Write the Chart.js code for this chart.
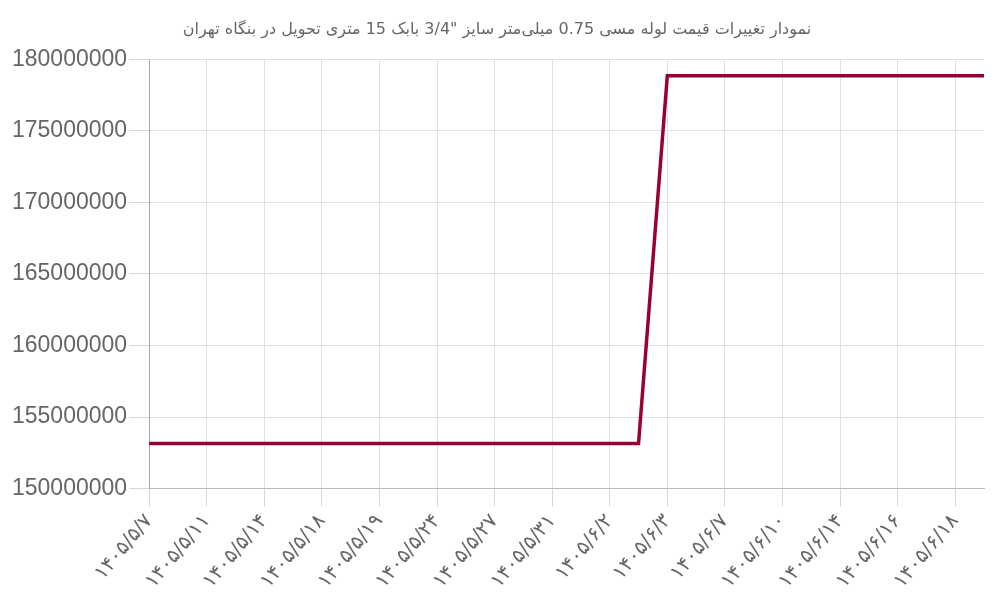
<!DOCTYPE html>
<html>
<head>
<meta charset="utf-8">
<script src="https://cdn.jsdelivr.net/npm/chart.js@4"></script>
<style>
  html, body { margin: 0; padding: 0; background: #fff; }
  #wrap { width: 1000px; height: 600px; }
</style>
</head>
<body>
<div id="wrap"><canvas id="chart"></canvas></div>
<script>
// تاریخ‌ها (برچسب‌های محور افقی)
const dates = [
    '۱۴۰۵/۵/۷', '۱۴۰۵/۵/۱۰', '۱۴۰۵/۵/۱۱', '۱۴۰۵/۵/۱۲', '۱۴۰۵/۵/۱۴',
    '۱۴۰۵/۵/۱۷', '۱۴۰۵/۵/۱۸', '۱۴۰۵/۵/۱۸', '۱۴۰۵/۵/۱۹', '۱۴۰۵/۵/۲۱',
    '۱۴۰۵/۵/۲۴', '۱۴۰۵/۵/۲۵', '۱۴۰۵/۵/۲۷', '۱۴۰۵/۵/۲۸', '۱۴۰۵/۵/۳۱',
    '۱۴۰۵/۶/۱', '۱۴۰۵/۶/۲', '۱۴۰۵/۶/۲', '۱۴۰۵/۶/۳', '۱۴۰۵/۶/۴',
    '۱۴۰۵/۶/۷', '۱۴۰۵/۶/۸', '۱۴۰۵/۶/۱۰', '۱۴۰۵/۶/۱۱', '۱۴۰۵/۶/۱۴',
    '۱۴۰۵/۶/۱۵', '۱۴۰۵/۶/۱۶', '۱۴۰۵/۶/۱۷', '۱۴۰۵/۶/۱۸', '۱۴۰۵/۶/۲۱'
];

// قیمت‌ها (ریال)
const prices = [
    153150000, 153150000, 153150000, 153150000, 153150000,
    153150000, 153150000, 153150000, 153150000, 153150000,
    153150000, 153150000, 153150000, 153150000, 153150000,
    153150000, 153150000, 153150000, 178850000, 178850000,
    178850000, 178850000, 178850000, 178850000, 178850000,
    178850000, 178850000, 178850000, 178850000, 178850000
];

const yMin = 150000000;
const yMax = 180000000;
const yStep = 5000000;

const titulo = 'نمودار تغییرات قیمت لوله مسی 0.75 میلی‌متر سایز "3/4 بابک 15 متری تحویل در بنگاه تهران';

const ctx = document.getElementById('chart').getContext('2d');
new Chart(ctx, {
    type: 'line',
    data: {
        labels: dates,
        datasets: [{
            label: 'قیمت',
            data: prices,
            borderColor: '#990033',
            backgroundColor: '#990033',
            borderWidth: 3.5,
            pointRadius: 0,
            tension: 0,
            fill: false
        }]
    },
    options: {
        responsive: true,
        maintainAspectRatio: false,
        animation: false,
        layout: { padding: { left: 10, right: 16, top: 2, bottom: 4 } },
        plugins: {
            legend: { display: false },
            tooltip: { enabled: false },
            title: {
                display: true,
                text: titulo,
                color: '#666',
                font: { family: 'DejaVu Sans, Liberation Sans, sans-serif', size: 16, weight: 'normal' },
                padding: { top: 18, bottom: 20 }
            }
        },
        scales: {
            x: {
                grid: { color: '#e0e0e0', tickLength: 18, tickColor: '#d8d8d8' },
                border: { color: '#bbb' },
                ticks: {
                    autoSkip: false,
                    maxRotation: 50,
                    minRotation: 50,
                    color: '#666',
                    font: { family: 'DejaVu Sans, sans-serif', size: 20 },
                    callback: function (value, index) {
                        return index % 2 === 0 ? this.getLabelForValue(value) : null;
                    }
                }
            },
            y: {
                min: yMin,
                max: yMax,
                grid: { color: '#e0e0e0', tickLength: 20, tickColor: '#d8d8d8' },
                border: { color: '#aaa' },
                ticks: {
                    stepSize: yStep,
                    color: '#666',
                    padding: 2,
                    font: { family: 'Liberation Sans, Arial, sans-serif', size: 23 },
                    callback: value => String(value)
                }
            }
        }
    }
});
</script>
</body>
</html>
